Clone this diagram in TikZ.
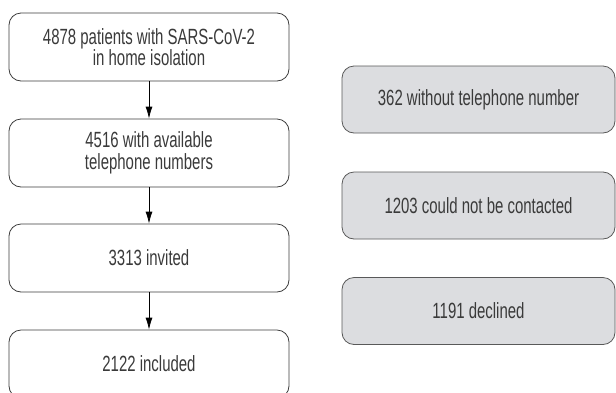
\documentclass[tikz,border=0pt]{standalone}
\usepackage{fontspec}
\setmainfont[FakeStretch=0.68]{Liberation Sans}
\usetikzlibrary{arrows.meta}
\definecolor{txt}{HTML}{3A3A3A}
\definecolor{edge}{HTML}{3C3C3C}
\definecolor{greyfill}{HTML}{DCDDE0}
\tikzset{
  flowbox/.style={draw=edge, line width=0.8pt, rounded corners=12pt, minimum width=280pt, minimum height=68pt, inner sep=0pt, align=center, text=txt, font=\fontsize{22}{21.5}\selectfont},
  sidebox/.style={flowbox, fill=greyfill, draw=edge!85, minimum width=273pt, minimum height=67pt},
  flowarrow/.style={draw=black, line width=0.8pt, -{Latex[length=12pt,width=7pt]}}
}
\begin{document}
\begin{tikzpicture}[x=1pt,y=-1pt]
\useasboundingbox (0,0) rectangle (616,392);
\begin{scope}
\clip (0,0) rectangle (616,392);
\node[flowbox] (a) at (149,47) {4878 patients with SARS-CoV-2\\in home isolation};
\node[flowbox] (b) at (149,153) {4516 with available\\telephone numbers};
\node[flowbox] (c) at (149,258) {3313 invited};
\node[flowbox] (d) at (149,364) {2122 included};
\node[sidebox] (r1) at (478.5,99.5) {362 without telephone number};
\node[sidebox] (r2) at (478.5,205.5) {1203 could not be contacted};
\node[sidebox] (r3) at (478.5,311) {1191 declined};
\draw[flowarrow] (a) -- (b);
\draw[flowarrow] (b) -- (c);
\draw[flowarrow] (c) -- (d);
\end{scope}
\end{tikzpicture}
\end{document}
